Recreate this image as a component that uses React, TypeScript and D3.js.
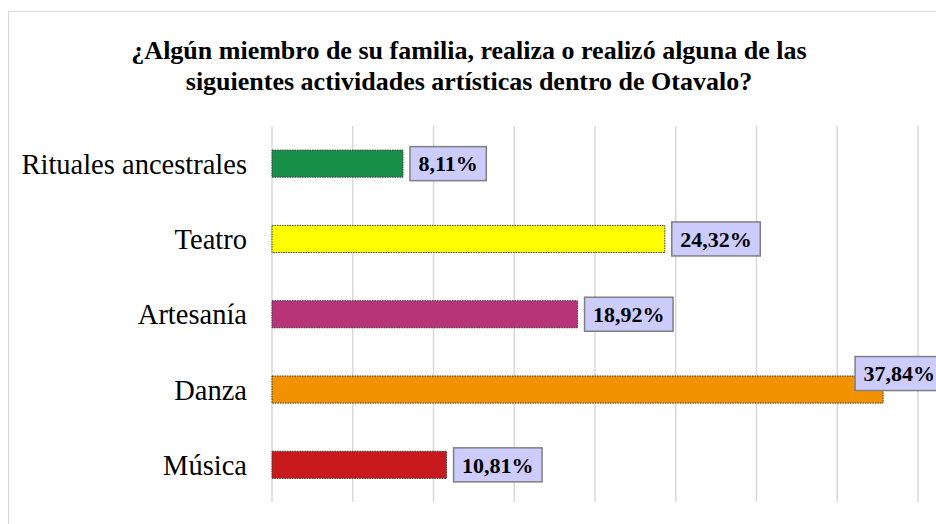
import React from "react";
import * as d3 from "d3";

const categories = ["Rituales ancestrales", "Teatro", "Artesanía", "Danza", "Música"];
const values = [8.11, 24.32, 18.92, 37.84, 10.81];
const valueLabels = ["8,11%", "24,32%", "18,92%", "37,84%", "10,81%"];
const barColors = ["#178f48", "#ffff00", "#b83479", "#f39200", "#c8191d"];
const xTicks = [0, 5, 10, 15, 20, 25, 30, 35, 40];
const titleLines = [
  "¿Algún miembro de su familia, realiza o realizó alguna de las",
  "siguientes actividades artísticas dentro de Otavalo?",
];

const W = 936;
const H = 524;
const FONT = "'Liberation Serif', 'Times New Roman', serif";

function measure(text: string, font: string): number {
  const c = document.createElement("canvas");
  const ctx = c.getContext("2d");
  if (!ctx) return text.length * 11;
  ctx.font = font;
  return ctx.measureText(text).width;
}

export default function App() {
  const x = d3.scaleLinear().domain([0, 40]).range([272, 918]);
  const y = d3
    .scaleBand<string>()
    .domain(categories)
    .range([126, 502.5])
    .paddingInner(0.64)
    .paddingOuter(0.32);
  const bw = y.bandwidth();
  const labelFont = `bold 22px ${FONT}`;

  return (
    <svg
      width={W}
      height={H}
      style={{ position: "absolute", left: 0, top: 0, background: "#fff" }}
    >
      <rect x={8.5} y={11.5} width={W + 10} height={H + 10} fill="#fff" stroke="#d9d9d9" strokeWidth={1} />
      {titleLines.map((t, i) => (
        <text
          key={i}
          x={469}
          y={59 + i * 31}
          textAnchor="middle"
          fontFamily={FONT}
          fontWeight="bold"
          fontSize={26}
          fill="#000"
        >
          {t}
        </text>
      ))}
      {xTicks.map((t) => (
        <line
          key={t}
          x1={x(t)}
          x2={x(t)}
          y1={126}
          y2={502}
          stroke="#d9d9d9"
          strokeWidth={1.5}
        />
      ))}
      {categories.map((c, i) => {
        const yc = (y(c) as number) + bw / 2;
        const xe = x(values[i]);
        const tw = measure(valueLabels[i], labelFont);
        const boxW = tw + 17;
        const boxH = 34;
        let bx = xe + 7;
        let by = yc - boxH / 2;
        if (bx + boxW > W - 4) {
          bx = xe - 28;
          by = yc - boxH / 2 - 16;
        }
        return (
          <g key={c}>
            <text
              x={247}
              y={yc}
              dy="0.35em"
              textAnchor="end"
              fontFamily={FONT}
              fontSize={28.5}
              fill="#000"
            >
              {c}
            </text>
            <rect
              x={x(0)}
              y={y(c)}
              width={xe - x(0)}
              height={bw}
              fill={barColors[i]}
              stroke="#3a3a3a"
              strokeWidth={1}
              strokeDasharray="1.5,1"
            />
            <rect
              x={bx}
              y={by}
              width={boxW}
              height={boxH}
              fill="#ccccff"
              stroke="#7f7f7f"
              strokeWidth={1.5}
            />
            <text
              x={bx + boxW / 2}
              y={by + boxH / 2}
              dy="0.35em"
              textAnchor="middle"
              fontFamily={FONT}
              fontWeight="bold"
              fontSize={22}
              fill="#000"
            >
              {valueLabels[i]}
            </text>
          </g>
        );
      })}
    </svg>
  );
}
